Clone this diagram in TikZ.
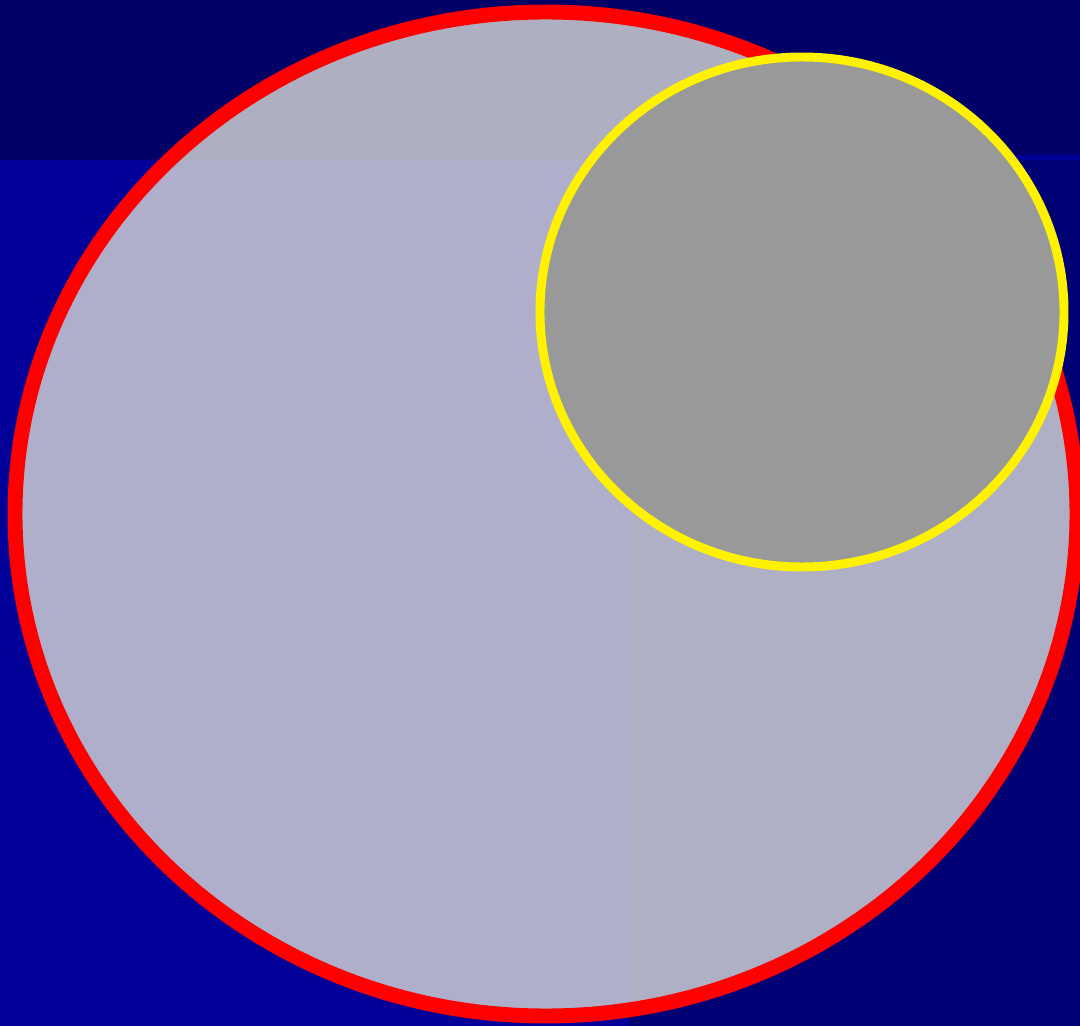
\documentclass[tikz,border=0pt]{standalone}
\usepackage{tikz}

\definecolor{navytop}{RGB}{0,0,102}
\definecolor{navyleft}{RGB}{0,0,153}
\definecolor{navyright}{RGB}{0,0,117}
\definecolor{haze}{RGB}{216,216,216}
\definecolor{disk}{RGB}{153,153,153}

\begin{document}
\begin{tikzpicture}[x=0.02cm,y=-0.02cm]
\clip (0,0) rectangle (1080,1026);
\useasboundingbox (0,0) rectangle (1080,1026);

% background bands
\fill[navyleft] (0,160) rectangle (630,1026);
\fill[navyright] (630,160) rectangle (1080,1026);
\fill[navyleft] (630,155) rectangle (1080,160);
\fill[navytop] (0,0) rectangle (1080,155);
\fill[navytop] (0,155) rectangle (630,160);

% big ellipse
\filldraw[red, line width=8.5pt, fill=haze, fill opacity=0.81] (546,514) ellipse (531 and 502);

% small ellipse
\filldraw[yellow, line width=5.1pt, fill=disk] (802,312) ellipse (262 and 255);
\end{tikzpicture}
\end{document}
